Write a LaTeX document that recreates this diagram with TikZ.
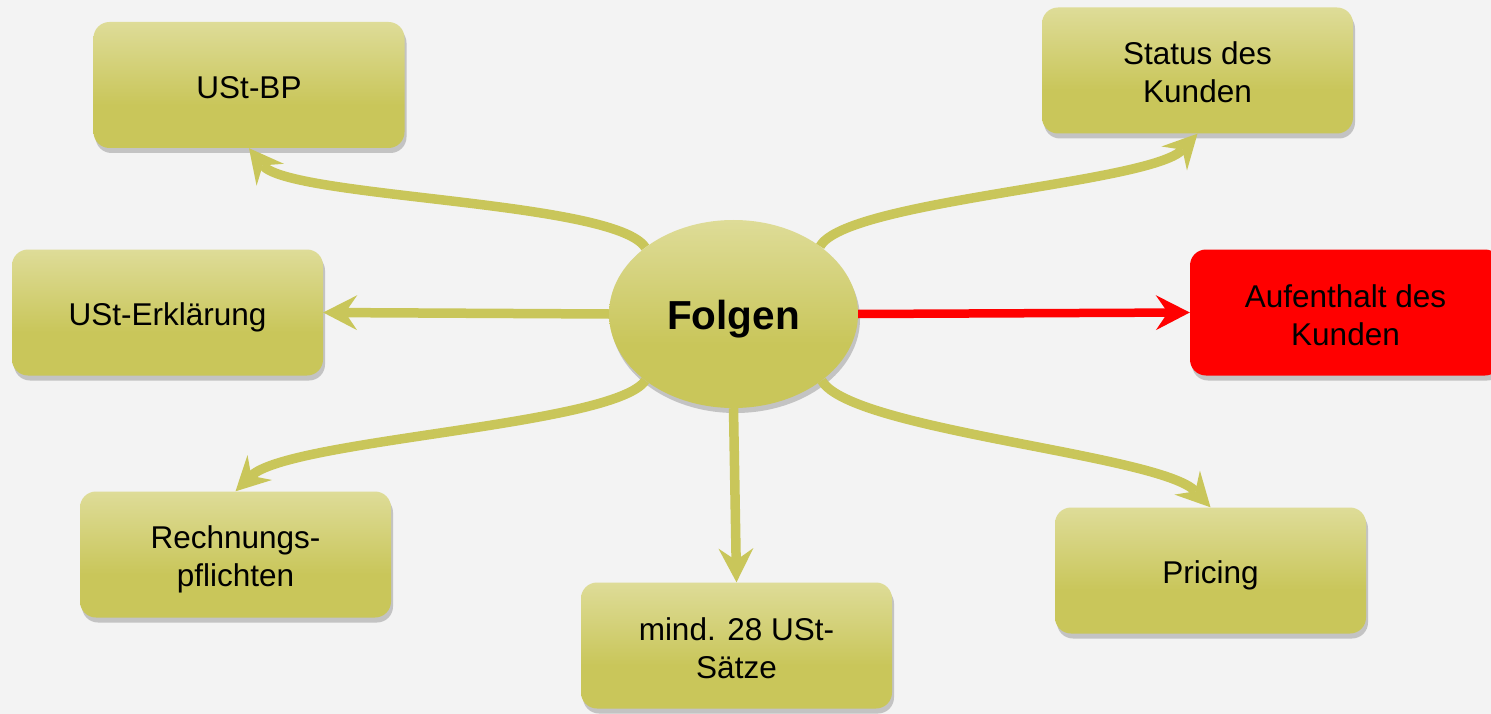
\documentclass[tikz,border=0pt]{standalone}
\usepackage{fontspec}
\setmainfont{Liberation Sans}
\usetikzlibrary{arrows.meta,shapes.geometric,shadows}

\definecolor{paper}{HTML}{F3F3F3}
\definecolor{olivetop}{HTML}{DEDC98}
\definecolor{olivebot}{HTML}{C9C65A}
\definecolor{shadowgray}{HTML}{C3C3C3}
\definecolor{alarm}{HTML}{FF0000}

% light at the top, full olive over the lower third
\pgfdeclareverticalshading{olivefade}{100bp}{%
  color(0bp)=(olivebot); color(42bp)=(olivebot);
  color(75bp)=(olivetop); color(100bp)=(olivetop)}

% struts that keep the text lines at a fixed spot inside the boxes:
% \capstrut opens the first line, \basestrut closes the last one
\newcommand\capstrut{\rule{0pt}{33pt}}
\newcommand\basestrut{\rule[-6pt]{0pt}{6pt}}
\newcommand\hubstrut{\rule[-6pt]{0pt}{46pt}}

\tikzset{
  boxshadow/.style={drop shadow={shadow xshift=2pt, shadow yshift=-5pt,
                    fill=shadowgray, opacity=1}},
  topicbase/.style={rectangle, rounded corners=16pt, minimum width=311pt,
                minimum height=126pt, inner sep=0pt, align=center,
                boxshadow, font=\fontsize{31.5}{38}\selectfont,
                execute at end node=\basestrut},
  topic/.style={topicbase, shading=olivefade},
  alarmtopic/.style={topicbase, fill=alarm},
  hub/.style={ellipse, minimum width=249pt, minimum height=188pt,
              inner sep=0pt, shading=olivefade, boxshadow,
              font=\fontsize{40.5}{48}\selectfont\bfseries,
              execute at begin node=\hubstrut},
  tip/.style={-{Stealth[length=34pt, width=35pt, inset=12pt, line width=0pt]}},
  link/.style={draw=olivebot, line width=9.5pt, tip},
  alarmlink/.style={draw=alarm, line width=8.5pt, tip},
}

\begin{document}
\begin{tikzpicture}[x=1pt, y=-1pt]
  \clip (0,0) rectangle (1491,714);
  \fill[paper] (0,0) rectangle (1491,714);

  % central topic and the surrounding consequences
  \node[hub] (folgen) at (733.5,314) {Folgen};

  \node[topic] (ustbp)    at (249,85)      {\capstrut USt-BP};
  \node[topic] (status)   at (1197.5,70.5) {\capstrut Status des\\Kunden};
  \node[topic] (usterkl)  at (167.5,312.5) {\capstrut USt-Erklärung};
  \node[alarmtopic] (aufenthalt) at (1345.5,312.5) {\capstrut Aufenthalt des\\Kunden};
  \node[topic] (rechnung) at (235.5,554.5) {\capstrut Rechnungs-\\pflichten};
  \node[topic] (saetze)   at (736.5,645.5) {\capstrut mind. 28 USt-\\Sätze};
  \node[topic] (pricing)  at (1210.5,570.5) {\capstrut Pricing};

  % connectors
  \draw[link] (folgen.143) .. controls +(-30,-47) and +(40,50) .. (ustbp.south);
  \draw[link] (folgen.38)  .. controls +(25,-46) and +(-47,50) .. (status.south);
  \draw[link] (folgen.west) -- (usterkl.east);
  \draw[link] (folgen.217) .. controls +(-30,45) and +(53,-52) .. (rechnung.north);
  \draw[link] (folgen.south) -- (saetze.north);
  \draw[link] (folgen.323) .. controls +(28,50) and +(-50,-53) .. (pricing.north);
  \draw[alarmlink] (folgen.east) -- (aufenthalt.west);
\end{tikzpicture}
\end{document}
